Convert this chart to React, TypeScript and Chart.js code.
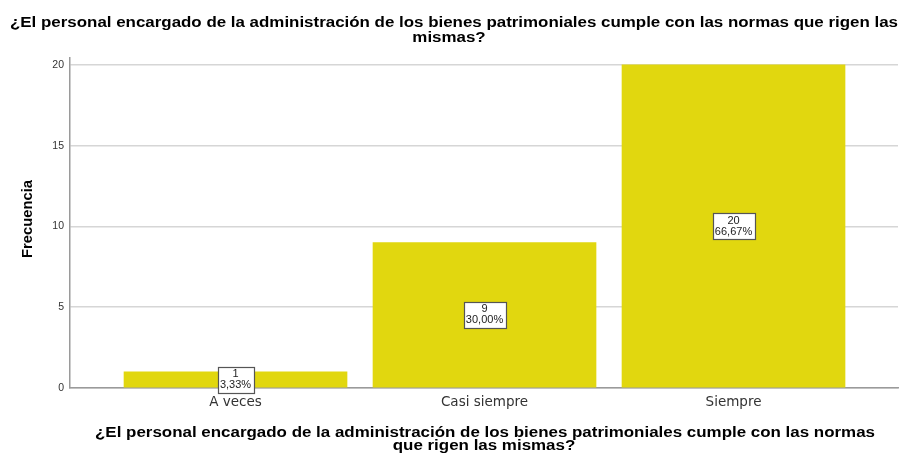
import React, { useEffect, useRef } from "react";
import { Chart, registerables } from "chart.js";

Chart.register(...registerables);

const categories: string[] = ["A veces", "Casi siempre", "Siempre"];
const counts: number[] = [1, 9, 20];
const percents: string[] = ["3,33%", "30,00%", "66,67%"];
const yTicks: number[] = [0, 5, 10, 15, 20];
const titleLines: string[] = [
  "¿El personal encargado de la administración de los bienes patrimoniales cumple con las normas que rigen las",
  "mismas?",
];
const xTitleLines: string[] = [
  "¿El personal encargado de la administración de los bienes patrimoniales cumple con las normas",
  "que rigen las mismas?",
];
const yTitle = "Frecuencia";

const FONT = "'Liberation Sans', Arial, Helvetica, sans-serif";

function stretchedText(ctx: any, text: string, x: number, y: number, sx: number) {
  ctx.save();
  ctx.translate(x, y);
  ctx.scale(sx, 1);
  ctx.fillText(text, 0, 0);
  ctx.restore();
}

export default function App() {
  const ref = useRef<HTMLCanvasElement | null>(null);

  useEffect(() => {
    if (!ref.current) return;
    const textPlugin = {
      id: "spssText",
      afterDatasetsDraw(chart: any) {
        const ctx = chart.ctx;
        const meta = chart.getDatasetMeta(0);
        ctx.save();
        ctx.font = `11px ${FONT}`;
        ctx.textAlign = "center";
        ctx.textBaseline = "middle";
        meta.data.forEach((bar: any, i: number) => {
          const mid = (bar.y + bar.base) / 2;
          const l1 = String(counts[i]);
          const l2 = percents[i];
          const w = Math.round(Math.max(ctx.measureText(l1).width, ctx.measureText(l2).width) + 5);
          const h = 26;
          const x0 = Math.round(bar.x - w / 2) + 0.5;
          const y0 = Math.round(mid - h / 2) + 0.5;
          ctx.fillStyle = "#ffffff";
          ctx.fillRect(x0, y0, w, h);
          ctx.strokeStyle = "#555555";
          ctx.lineWidth = 1.2;
          ctx.strokeRect(x0, y0, w, h);
          ctx.fillStyle = "#222222";
          ctx.fillText(l1, bar.x, mid - 5.5);
          ctx.fillText(l2, bar.x, mid + 5.5);
        });
        ctx.restore();
      },
      afterDraw(chart: any) {
        const ctx = chart.ctx;
        const area = chart.chartArea;
        ctx.save();
        ctx.fillStyle = "#000000";
        ctx.textAlign = "center";
        ctx.textBaseline = "alphabetic";
        ctx.font = `bold 14px ${FONT}`;
        const sTop = 888 / ctx.measureText(titleLines[0]).width;
        stretchedText(ctx, titleLines[0], 454, 27, sTop);
        stretchedText(ctx, titleLines[1], 449, 42, sTop);
        const cx = (area.left + area.right) / 2;
        const sX = 780 / ctx.measureText(xTitleLines[0]).width;
        stretchedText(ctx, xTitleLines[0], cx + 1, 437, sX);
        stretchedText(ctx, xTitleLines[1], cx, 449.5, sX);
        ctx.textBaseline = "middle";
        ctx.translate(28, 219);
        ctx.rotate(-Math.PI / 2);
        const sY = 78 / ctx.measureText(yTitle).width;
        stretchedText(ctx, yTitle, 0, 0, sY);
        ctx.restore();
      },
    };

    const chart = new Chart(ref.current, {
      type: "bar",
      data: {
        datasets: [
          {
            data: categories.map((c, i) => ({ x: i, y: counts[i] })),
            backgroundColor: "#e1d70f",
            borderWidth: 0,
            barThickness: 223,
          },
        ],
      },
      options: {
        animation: false,
        responsive: false,
        maintainAspectRatio: false,
        layout: { padding: { top: 58, right: 2, left: 0, bottom: 0 } },
        plugins: {
          legend: { display: false },
          tooltip: { enabled: false },
          title: { display: false },
        },
        scales: {
          x: {
            type: "linear",
            offset: false,
            min: -0.6647,
            max: 2.6606,
            afterBuildTicks: (scale: any) => {
              scale.ticks = categories.map((c, i) => ({ value: i }));
            },
            afterFit: (scale: any) => {
              scale.height = 65;
            },
            ticks: {
              callback: (v: any) => categories[Number(v)] ?? "",
              font: { family: "'DejaVu Sans', sans-serif", size: 13.5 },
              color: "#333333",
              padding: 6,
              maxRotation: 0,
              autoSkip: false,
            },
            grid: { display: false, drawTicks: false },
            border: { color: "#9a9a9a", width: 1.5 },
          },
          y: {
            type: "linear",
            min: 0,
            max: 20.43,
            afterBuildTicks: (scale: any) => {
              scale.ticks = yTicks.map((v) => ({ value: v }));
            },
            afterFit: (scale: any) => {
              scale.width = 70;
            },
            ticks: {
              font: { family: FONT, size: 10.5 },
              color: "#333333",
              padding: 6,
            },
            grid: { color: "#d6d6d6", lineWidth: 1.5, drawTicks: false },
            border: { color: "#9a9a9a", width: 1.5 },
          },
        },
      },
      plugins: [textPlugin],
    } as any);
    return () => chart.destroy();
  }, []);

  return (
    <div style={{ position: "absolute", left: 0, top: 0, width: 900, height: 453, background: "#fff" }}>
      <canvas ref={ref} width={900} height={453} style={{ display: "block" }} />
    </div>
  );
}
